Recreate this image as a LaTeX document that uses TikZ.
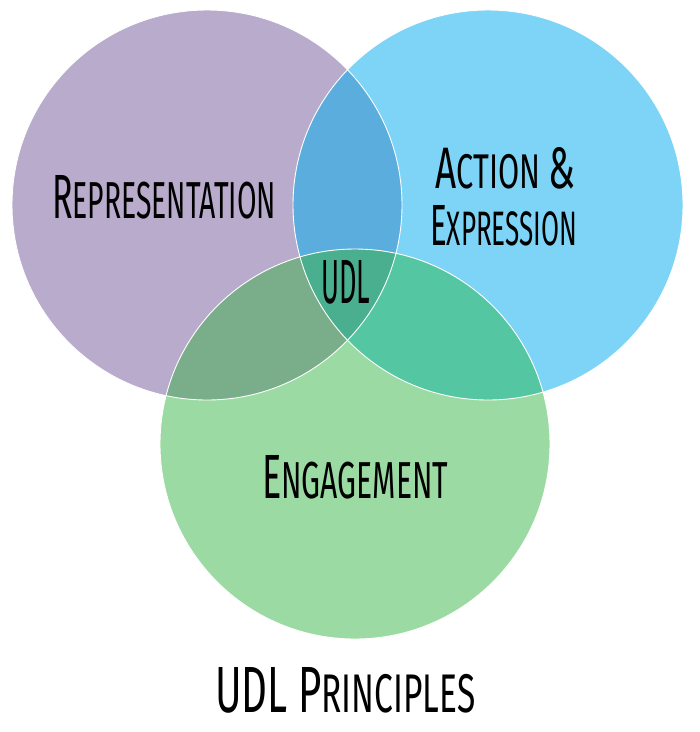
\documentclass[tikz,border=0pt]{standalone}
\usepackage{fontspec}
\setmainfont{Fira Sans}
\usepackage{graphicx}
\definecolor{cP}{HTML}{B9ABCC}
\definecolor{cB}{HTML}{7DD4F6}
\definecolor{cG}{HTML}{9BDAA2}
\definecolor{cPB}{HTML}{5AADDC}
\definecolor{cPG}{HTML}{7AAE8A}
\definecolor{cBG}{HTML}{55C6A2}
\definecolor{cAll}{HTML}{4AAF8E}
\newcommand\scx[2]{{\fontsize{12}{12}\selectfont #1}{\fontsize{10}{12}\selectfont #2}}
\tikzset{
  venn/.style={circle, minimum size=390pt, inner sep=0pt, draw=none},
  rim/.style={draw=white, line width=0.9pt},
  lbl/.style={anchor=north west, inner sep=0pt, text=black}
}
\begin{document}
\begin{tikzpicture}[x=1pt,y=-1pt]
\useasboundingbox[fill=white] (0,0) rectangle (700,732);
\coordinate (cp) at (207,205);
\coordinate (cb) at (488,205);
\coordinate (cg) at (355,444);
\node[venn, fill=cP] (P) at (cp) {};
\node[venn, fill=cB] (B) at (cb) {};
\node[venn, fill=cG] (G) at (cg) {};
\begin{scope}
  \clip (cb) circle[radius=195pt];
  \fill[cBG] (cg) circle[radius=195pt];
\end{scope}
\begin{scope}
  \clip (cp) circle[radius=195pt];
  \fill[cPB] (cb) circle[radius=195pt];
  \fill[cPG] (cg) circle[radius=195pt];
  \clip (cb) circle[radius=195pt];
  \fill[cAll] (cg) circle[radius=195pt];
\end{scope}
\draw[rim] (cp) circle[radius=195pt];
\draw[rim] (cb) circle[radius=195pt];
\draw[rim] (cg) circle[radius=195pt];
\node[lbl] (rep) at (52,175) {\resizebox{224pt}{43pt}{\scx{R}{EPRESENTATION}}};
\node[lbl] (act) at (435,147) {\resizebox{140pt}{41pt}{\scx{A}{CTION} \scx{\&}{}}};
\node[lbl] (exp) at (430,205) {\resizebox{147pt}{40pt}{\scx{E}{XPRESSION}}};
\node[lbl] (udl) at (321,260) {\resizebox{49pt}{43pt}{\scx{UDL}{}}};
\node[lbl] (eng) at (262,455) {\resizebox{186pt}{43pt}{\scx{E}{NGAGEMENT}}};
\node[lbl] (title) at (215,667) {\resizebox{260pt}{45pt}{\scx{UDL P}{RINCIPLES}}};
\end{tikzpicture}
\end{document}
